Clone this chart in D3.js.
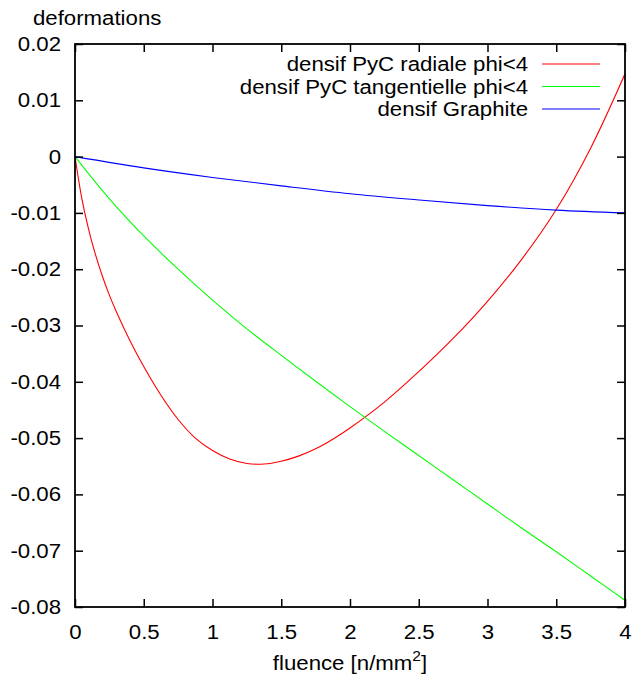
<!DOCTYPE html>
<html>
<head>
<meta charset="utf-8">
<script src="https://cdn.jsdelivr.net/npm/d3@7"></script>
<style>
  html, body { margin: 0; padding: 0; background: #fff; }
  svg { display: block; }
  text { font-family: "Liberation Sans", Arial, sans-serif; fill: #000; }
</style>
</head>
<body>
<svg id="chart" width="632" height="680"></svg>
<script>
// ---- data ----
const xTicks = [0, 0.5, 1, 1.5, 2, 2.5, 3, 3.5, 4];
const xTickLabels = ["0", "0.5", "1", "1.5", "2", "2.5", "3", "3.5", "4"];
const yTicks = [0.02, 0.01, 0, -0.01, -0.02, -0.03, -0.04, -0.05, -0.06, -0.07, -0.08];
const yTickLabels = ["0.02", "0.01", "0", "-0.01", "-0.02", "-0.03", "-0.04", "-0.05", "-0.06", "-0.07", "-0.08"];

const seriesNames = ["densif PyC radiale phi<4", "densif PyC tangentielle phi<4", "densif Graphite"];
const seriesColors = ["#ff0000", "#00ff00", "#0000ff"];

const radialeX = [0, 0.05, 0.1, 0.15, 0.2, 0.25, 0.3, 0.4, 0.5, 0.625, 0.75, 0.875, 1.0, 1.125, 1.25, 1.375, 1.5, 1.625, 1.75, 1.875, 2.0, 2.25, 2.5, 2.75, 3.0, 3.25, 3.5, 3.75, 4.0];
const radialeY = [0, -0.0075, -0.0130, -0.0175, -0.0213, -0.0246, -0.0275, -0.0327, -0.0373, -0.0424, -0.0467, -0.0500, -0.0522, -0.0537, -0.0545, -0.0546, -0.0541, -0.0532, -0.0519, -0.0502, -0.0482, -0.0436, -0.0382, -0.0323, -0.0257, -0.0182, -0.0094, 0.0015, 0.0147];

const tangX = [0, 0.25, 0.5, 0.75, 1.0, 1.25, 1.5, 1.75, 2.0, 2.25, 2.5, 2.75, 3.0, 3.25, 3.5, 3.75, 4.0];
const tangY = [0, -0.0075, -0.0141, -0.0200, -0.0255, -0.0306, -0.0353, -0.0399, -0.0444, -0.0488, -0.0531, -0.0574, -0.0617, -0.0660, -0.0702, -0.0745, -0.0788];

const graphX = [0, 0.5, 1.0, 1.5, 2.0, 2.5, 3.0, 3.5, 4.0];
const graphY = [0, -0.0020, -0.0037, -0.0052, -0.0066, -0.0077, -0.0087, -0.0095, -0.0100];

// ---- layout ----
const svg = d3.select("#chart");
const margin = { left: 75, top: 44, right: 7, bottom: 73 };
const W = 632 - margin.left - margin.right;
const H = 680 - margin.top - margin.bottom;
const FS = 20;
const STRETCH = 1.11;

const x = d3.scaleLinear().domain([0, 4]).range([0, W]);
const y = d3.scaleLinear().domain([-0.08, 0.02]).range([H, 0]);

const g = svg.append("g").attr("transform", `translate(${margin.left},${margin.top})`);

// series
const series = [
  { xs: radialeX, ys: radialeY },
  { xs: tangX, ys: tangY },
  { xs: graphX, ys: graphY }
];
const line = d3.line().x(d => x(d[0])).y(d => y(d[1])).curve(d3.curveCatmullRom.alpha(0.5));
g.append("defs").append("clipPath").attr("id", "clip")
  .append("rect").attr("width", W).attr("height", H);
series.forEach((s, i) => {
  g.append("path")
    .datum(s.xs.map((v, k) => [v, s.ys[k]]))
    .attr("clip-path", "url(#clip)")
    .attr("fill", "none")
    .attr("stroke", seriesColors[i])
    .attr("stroke-width", 1.1)
    .attr("d", line);
});

// axes (ticks inside, mirrored)
const tickLen = 8;
const axB = d3.axisBottom(x).tickValues(xTicks).tickFormat((d, i) => xTickLabels[i]).tickSize(-tickLen).tickPadding(tickLen + 10);
const axT = d3.axisTop(x).tickValues(xTicks).tickFormat("").tickSize(-tickLen);
const axL = d3.axisLeft(y).tickValues(yTicks).tickFormat((d, i) => yTickLabels[i]).tickSize(-tickLen).tickPadding(tickLen + 6);
const axR = d3.axisRight(y).tickValues(yTicks).tickFormat("").tickSize(-tickLen);

function style(sel) {
  sel.select(".domain").remove();
  sel.selectAll(".tick line").attr("stroke", "#000").attr("stroke-width", 1.5);
  sel.selectAll(".tick text").attr("font-size", FS).attr("font-family", "Liberation Sans, Arial, sans-serif").attr("fill", "#000");
}
g.append("g").attr("transform", `translate(0,${H})`).call(axB).call(style);
g.append("g").call(axT).call(style);
g.append("g").call(axL).call(style);
g.append("g").attr("transform", `translate(${W},0)`).call(axR).call(style);

// frame
g.append("rect").attr("width", W).attr("height", H)
  .attr("fill", "none").attr("stroke", "#000").attr("stroke-width", 1.8);

// legend
const legRight = 528 - margin.left;
const legLineX1 = 542 - margin.left, legLineX2 = 600 - margin.left;
const legY0 = 64 - margin.top, legDy = 22.5;
seriesNames.forEach((name, i) => {
  const yy = legY0 + i * legDy;
  g.append("text").attr("x", legRight).attr("y", yy).attr("dy", "0.35em")
    .attr("text-anchor", "end").attr("font-size", FS).text(name);
  g.append("line").attr("x1", legLineX1).attr("x2", legLineX2)
    .attr("y1", yy).attr("y2", yy)
    .attr("stroke", seriesColors[i]).attr("stroke-width", 1.1);
});

// axis titles
svg.append("text").attr("x", 33).attr("y", 25).attr("font-size", FS).text("deformations");
const xt = svg.append("text").attr("x", margin.left + W / 2).attr("y", 670)
  .attr("text-anchor", "middle").attr("font-size", FS);
xt.append("tspan").text("fluence [n/mm");
xt.append("tspan").attr("dy", -9).attr("font-size", 14).text("2");
xt.append("tspan").attr("dy", 9).text("]");

// the reference glyphs are slightly wider than Liberation Sans: stretch horizontally
svg.selectAll("text").each(function () {
  const len = this.getComputedTextLength();
  if (len > 0) {
    d3.select(this).attr("textLength", len * STRETCH).attr("lengthAdjust", "spacingAndGlyphs");
  }
});
</script>
</body>
</html>
